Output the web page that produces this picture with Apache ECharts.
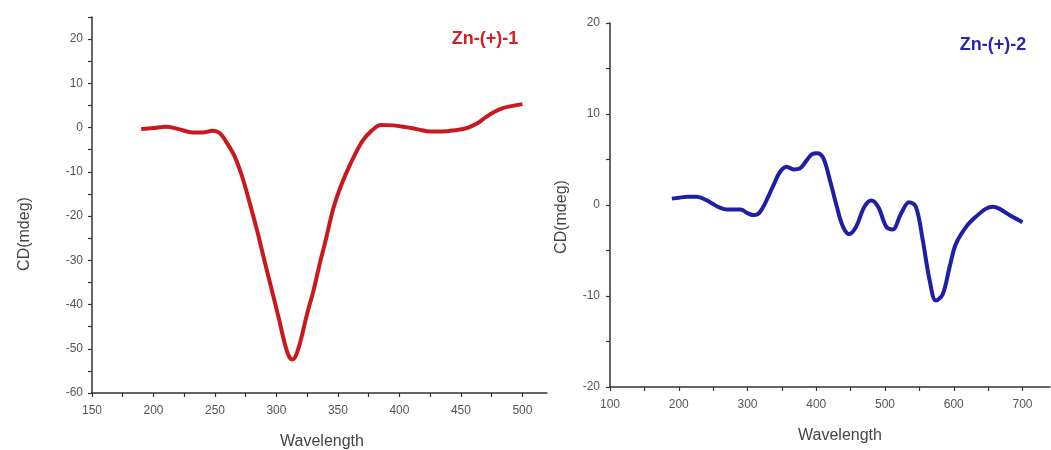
<!DOCTYPE html>
<html>
<head>
<meta charset="utf-8">
<script src="https://cdn.jsdelivr.net/npm/echarts@6/dist/echarts.min.js"></script>
<style>
html,body{margin:0;padding:0;background:#fff;}
#chart{width:1051px;height:450px;}
</style>
</head>
<body>
<div id="chart"></div>
<script>
// Panel 1: Zn-(+)-1
var wl1 = [190, 200, 210, 220, 232, 240, 248, 254, 260, 266, 272, 278, 284, 290, 296, 302, 306, 310, 313, 316, 320, 325, 330, 335, 340, 346, 352, 358, 364, 370, 377, 385, 395, 405, 415, 425, 435, 445, 455, 463, 470, 477, 484, 492, 500];
var cd1 = [-0.3, -0.1, 0.2, -0.3, -1.1, -1.1, -0.7, -1.3, -3.6, -6.5, -11, -16.8, -23, -29.8, -36.5, -43.2, -48, -51.6, -52.4, -51.4, -47.8, -42, -37, -31, -25.5, -18.5, -13.5, -9.5, -6, -3, -0.8, 0.6, 0.5, 0.1, -0.4, -0.9, -0.9, -0.6, -0.1, 0.9, 2.3, 3.5, 4.4, 4.9, 5.3];
// Panel 2: Zn-(+)-2
var wl2 = [190, 200, 212, 226, 241, 250, 260, 270, 280, 290, 300, 308, 315, 323, 330, 338, 347, 357, 367, 376, 386, 394, 401, 410, 420, 430, 439, 448, 458, 470, 480, 490, 502, 511, 523, 535, 545, 555, 565, 574, 584, 594, 603, 618, 632, 647, 657, 666, 681, 700];
var cd2 = [0.7, 0.8, 0.9, 0.9, 0.5, 0.1, -0.3, -0.5, -0.5, -0.5, -0.9, -1.1, -1.0, -0.2, 0.9, 2.2, 3.6, 4.2, 3.9, 4.0, 4.9, 5.6, 5.7, 5.2, 2.7, -0.2, -2.4, -3.2, -2.4, -0.2, 0.5, -0.2, -2.4, -2.7, -1.0, 0.3, -0.2, -3.9, -8.3, -10.5, -9.8, -6.8, -4.3, -2.4, -1.3, -0.4, -0.2, -0.4, -1.1, -1.9];

// Tick labels
var xLabels1 = [150, 200, 250, 300, 350, 400, 450, 500];
var xTicks1 = [150, 175, 200, 225, 250, 275, 300, 325, 350, 375, 400, 425, 450, 475, 500];
var yLabels1 = [-60, -50, -40, -30, -20, -10, 0, 10, 20];
var yTicks1 = [-60, -55, -50, -45, -40, -35, -30, -25, -20, -15, -10, -5, 0, 5, 10, 15, 20, 25];
var xLabels2 = [100, 200, 300, 400, 500, 600, 700];
var xTicks2 = [100, 150, 200, 250, 300, 350, 400, 450, 500, 550, 600, 650, 700];
var yLabels2 = [-20, -10, 0, 10, 20];
var yTicks2 = [-20, -15, -10, -5, 0, 5, 10, 15, 20];

var titles = ['Zn-(+)-1', 'Zn-(+)-2'];
var xName = 'Wavelength';
var yName = 'CD(mdeg)';

function pairs(xs, ys) { return xs.map(function (x, i) { return [x, ys[i]]; }); }

var FONT = '"Liberation Sans", Arial, sans-serif';
var lineAxis = { show: true, onZero: false, lineStyle: { color: '#333', width: 1.5 } };
function xAxisCfg(grid, min, max, labels, ticks) {
  return {
    type: 'value', gridIndex: grid, min: min, max: max,
    axisLine: lineAxis,
    axisTick: { show: true, inside: false, length: 4, customValues: ticks, lineStyle: { color: '#333', width: 1.2 } },
    axisLabel: { customValues: labels, color: '#555', fontSize: 12, fontFamily: FONT, margin: 12 },
    splitLine: { show: false }
  };
}
function yAxisCfg(grid, min, max, labels, ticks, margin) {
  return {
    type: 'value', gridIndex: grid, min: min, max: max,
    axisLine: lineAxis,
    axisTick: { show: true, inside: false, length: 4, customValues: ticks, lineStyle: { color: '#333', width: 1.2 } },
    axisLabel: { customValues: labels, color: '#555', fontSize: 12, fontFamily: FONT, margin: margin },
    splitLine: { show: false }
  };
}

var chart = echarts.init(document.getElementById('chart'), null, { renderer: 'canvas' });
chart.setOption({
  backgroundColor: '#ffffff',
  animation: false,
  grid: [
    { left: 92, top: 17, right: 504, bottom: 57 },
    { left: 610, top: 23, right: 1, bottom: 63 }
  ],
  xAxis: [
    xAxisCfg(0, 150, 520, xLabels1, xTicks1),
    xAxisCfg(1, 100, 740, xLabels2, xTicks2)
  ],
  yAxis: [
    yAxisCfg(0, -60, 25, yLabels1, yTicks1, 9),
    yAxisCfg(1, -20, 20, yLabels2, yTicks2, 10)
  ],
  series: [
    {
      type: 'line', xAxisIndex: 0, yAxisIndex: 0, data: pairs(wl1, cd1),
      smooth: 0.35, showSymbol: false, symbol: 'none',
      lineStyle: { color: '#c81a1e', width: 4 }
    },
    {
      type: 'line', xAxisIndex: 1, yAxisIndex: 1, data: pairs(wl2, cd2),
      smooth: 0.35, showSymbol: false, symbol: 'none',
      lineStyle: { color: '#1e1ea6', width: 4 }
    }
  ],
  graphic: [
    { type: 'text', x: 485, y: 39, style: { text: titles[0], fill: '#d01f25', font: 'bold 18px ' + FONT, textAlign: 'center', textVerticalAlign: 'middle' } },
    { type: 'text', x: 993, y: 45, style: { text: titles[1], fill: '#2626b0', font: 'bold 18px ' + FONT, textAlign: 'center', textVerticalAlign: 'middle' } },
    { type: 'text', x: 322, y: 442, style: { text: xName, fill: '#444', font: '16px ' + FONT, textAlign: 'center', textVerticalAlign: 'middle' } },
    { type: 'text', x: 840, y: 436, style: { text: xName, fill: '#444', font: '16px ' + FONT, textAlign: 'center', textVerticalAlign: 'middle' } },
    { type: 'text', x: 25, y: 234, rotation: Math.PI / 2, style: { text: yName, fill: '#444', font: '16px ' + FONT, textAlign: 'center', textVerticalAlign: 'middle' } },
    { type: 'text', x: 562, y: 217, rotation: Math.PI / 2, style: { text: yName, fill: '#444', font: '16px ' + FONT, textAlign: 'center', textVerticalAlign: 'middle' } }
  ]
});
</script>
</body>
</html>
